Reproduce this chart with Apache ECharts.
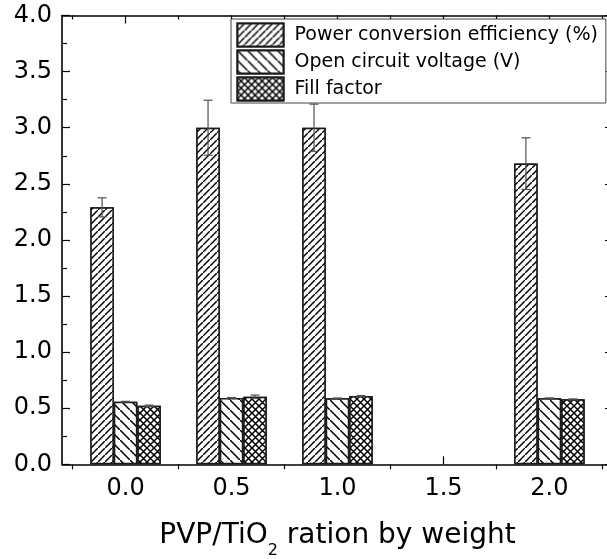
<!DOCTYPE html>
<html>
<head>
<meta charset="utf-8">
<script src="https://cdn.jsdelivr.net/npm/echarts@6/dist/echarts.min.js"></script>
<style>
  html, body { margin: 0; padding: 0; background: #fff; }
  #chart { width: 607px; height: 559px; }
</style>
</head>
<body>
<div id="chart"></div>
<script>
// PVP/TiO2 weight ratios (x positions) and tick values
const ratios = [0.0, 0.5, 1.0, 1.5, 2.0];
const xMinorTicks = [-0.25, 0.25, 0.75, 1.25, 1.75, 2.25];
const yMajorTicks = [0, 0.5, 1.0, 1.5, 2.0, 2.5, 3.0, 3.5, 4.0];
const yMinorTicks = [0.25, 0.75, 1.25, 1.75, 2.25, 2.75, 3.25, 3.75];

const seriesNames = ['Power conversion efficiency (%)', 'Open circuit voltage (V)', 'Fill factor'];

// Cell parameters per ratio (null = not measured)
const pce    = [2.29, 3.00, 3.00, null, 2.68];
const pceErr = [0.085, 0.245, 0.21, null, 0.23];
const voc    = [0.558, 0.592, 0.588, null, 0.588];
const vocErr = [0.003, 0.003, 0.003, null, 0.004];
const ff     = [0.522, 0.602, 0.608, null, 0.579];
const ffErr  = [0.006, 0.015, 0.005, null, 0.004];

const FONT = 'DejaVu Sans';
const BAR_W = 23.5;
const CAP_W = 9;
const ERR_COLOR = '#505050';
const AXIS_COLOR = '#000';

// hatch tiles built from filled polygons so the lines join across tiles
function slashTile(a) {       // "/" lines
  return 'path://M0,10L0,' + (10 - a) + 'L' + (10 - a) + ',0L10,0L10,' + a + 'L' + a + ',10Z';
}
function backslashTile(a) {   // "\" lines
  return 'path://M0,0L' + a + ',0L10,' + (10 - a) + 'L10,10L' + (10 - a) + ',10L0,' + a + 'Z';
}
function crossTile(a) {
  return slashTile(a) + ' ' + backslashTile(a).slice(7);
}
function hatch(symbol, size) {
  return {
    symbol: symbol,
    symbolSize: 1,
    color: '#000',
    backgroundColor: '#fff',
    dashArrayX: [size, 0],
    dashArrayY: [size, 0],
    rotation: 0
  };
}
const decals = [
  hatch(slashTile(1.5), 7),
  hatch(backslashTile(1.1), 10),
  hatch(crossTile(1.5), 7)
];

const valueSets = [pce, voc, ff];
const errSets = [pceErr, vocErr, ffErr];

function pairs(vals) {
  const out = [];
  ratios.forEach((r, i) => { if (vals[i] != null) out.push([r, vals[i]]); });
  return out;
}
function triples(vals, errs) {
  const out = [];
  ratios.forEach((r, i) => { if (vals[i] != null) out.push([r, vals[i], errs[i]]); });
  return out;
}

function errorBarRenderer(slot) {
  return function (params, api) {
    const x = api.value(0), y = api.value(1), e = api.value(2);
    const hi = api.coord([x, y + e]);
    const lo = api.coord([x, y - e]);
    const cx = hi[0] + (slot - 1) * BAR_W;
    const h = CAP_W / 2;
    const st = { stroke: ERR_COLOR, lineWidth: 1.2 };
    return {
      type: 'group',
      children: [
        { type: 'line', shape: { x1: cx, y1: hi[1], x2: cx, y2: lo[1] }, style: st },
        { type: 'line', shape: { x1: cx - h, y1: hi[1], x2: cx + h, y2: hi[1] }, style: st },
        { type: 'line', shape: { x1: cx - h, y1: lo[1], x2: cx + h, y2: lo[1] }, style: st }
      ]
    };
  };
}

const gridBox = { left: 62, top: 15.5, right: -6, bottom: 94.7, containLabel: false, outerBoundsMode: 'none' };

function xAxisDef(gridIndex, position, opts) {
  return Object.assign({
    type: 'value', gridIndex: gridIndex, position: position,
    min: -0.3, max: 2.3,
    splitLine: { show: false },
    axisLine: { show: false, onZero: false },
    axisTick: { show: false },
    axisLabel: { show: false }
  }, opts);
}
function yAxisDef(gridIndex, position, opts) {
  return Object.assign({
    type: 'value', gridIndex: gridIndex, position: position,
    min: 0, max: 4,
    splitLine: { show: false },
    axisLine: { show: false, onZero: false },
    axisTick: { show: false },
    axisLabel: { show: false }
  }, opts);
}
const lineStyle = { color: AXIS_COLOR, width: 1.6 };
const tickStyle = { color: AXIS_COLOR, width: 1.2 };

const option = {
  animation: false,
  backgroundColor: '#fff',
  grid: [
    Object.assign({}, gridBox),
    Object.assign({}, gridBox)
  ],
  legend: {
    data: seriesNames,
    orient: 'vertical',
    left: 231,
    top: 19,
    itemWidth: 46,
    itemHeight: 23,
    itemGap: 2,
    padding: [3.5, 8, 1.5, 5.5],
    borderColor: '#444',
    borderWidth: 1,
    backgroundColor: '#fff',
    selectedMode: false,
    icon: 'rect',
    textStyle: { fontFamily: FONT, fontSize: 19, lineHeight: 20, color: '#000', padding: [0, 0, 0, 6] }
  },
  xAxis: [
    xAxisDef(0, 'bottom', {
      axisLine: { show: true, onZero: false, lineStyle: lineStyle },
      axisTick: { show: true, inside: true, length: 8, customValues: ratios, lineStyle: tickStyle },
      axisLabel: {
        show: true, customValues: ratios, margin: 12,
        formatter: v => Number(v).toFixed(1),
        fontFamily: FONT, fontSize: 24, color: '#000'
      },
      name: '{m|PVP/TiO}{s|2}{m| ration by weight}',
      nameLocation: 'middle',
      nameGap: 47,
      nameTextStyle: {
        rich: {
          m: { fontFamily: FONT, fontSize: 28, lineHeight: 48, color: '#000' },
          s: { fontFamily: FONT, fontSize: 16, lineHeight: 16, color: '#000', verticalAlign: 'bottom' }
        }
      }
    }),
    xAxisDef(0, 'top', {
      axisLine: { show: true, onZero: false, lineStyle: lineStyle },
      axisTick: { show: true, inside: true, length: 8, customValues: ratios, lineStyle: tickStyle }
    }),
    xAxisDef(1, 'bottom', {
      axisTick: { show: true, inside: false, length: 5, customValues: xMinorTicks, lineStyle: tickStyle }
    }),
    xAxisDef(1, 'top', {
      axisTick: { show: true, inside: true, length: 4, customValues: xMinorTicks, lineStyle: tickStyle }
    })
  ],
  yAxis: [
    yAxisDef(0, 'left', {
      interval: 0.5,
      axisLine: { show: true, onZero: false, lineStyle: lineStyle },
      axisTick: { show: true, inside: true, length: 8, customValues: yMajorTicks, lineStyle: tickStyle },
      axisLabel: {
        show: true, customValues: yMajorTicks, margin: 10,
        formatter: v => Number(v).toFixed(1),
        fontFamily: FONT, fontSize: 24, color: '#000'
      }
    }),
    yAxisDef(0, 'right', {
      interval: 0.5,
      axisLine: { show: true, onZero: false, lineStyle: lineStyle },
      axisTick: { show: true, inside: true, length: 8, customValues: yMajorTicks, lineStyle: tickStyle }
    }),
    yAxisDef(1, 'left', {
      axisTick: { show: true, inside: true, length: 5, customValues: yMinorTicks, lineStyle: tickStyle }
    }),
    yAxisDef(1, 'right', {
      axisTick: { show: true, inside: true, length: 5, customValues: yMinorTicks, lineStyle: tickStyle }
    })
  ],
  series: []
};

valueSets.forEach((vals, k) => {
  option.series.push({
    name: seriesNames[k],
    type: 'bar',
    xAxisIndex: 0,
    yAxisIndex: 0,
    barWidth: BAR_W,
    barGap: '0%',
    data: pairs(vals),
    itemStyle: {
      color: '#fff',
      borderColor: '#1a1a1a',
      borderWidth: 1.5,
      decal: decals[k]
    },
    emphasis: { disabled: true },
    z: 2
  });
});
valueSets.forEach((vals, k) => {
  option.series.push({
    name: seriesNames[k] + ' error',
    type: 'custom',
    xAxisIndex: 0,
    yAxisIndex: 0,
    renderItem: errorBarRenderer(k),
    data: triples(vals, errSets[k]),
    encode: { x: 0, y: 1 },
    z: 5,
    silent: true
  });
});

const chart = echarts.init(document.getElementById('chart'), null, { renderer: 'canvas' });
chart.setOption(option);
</script>
</body>
</html>
